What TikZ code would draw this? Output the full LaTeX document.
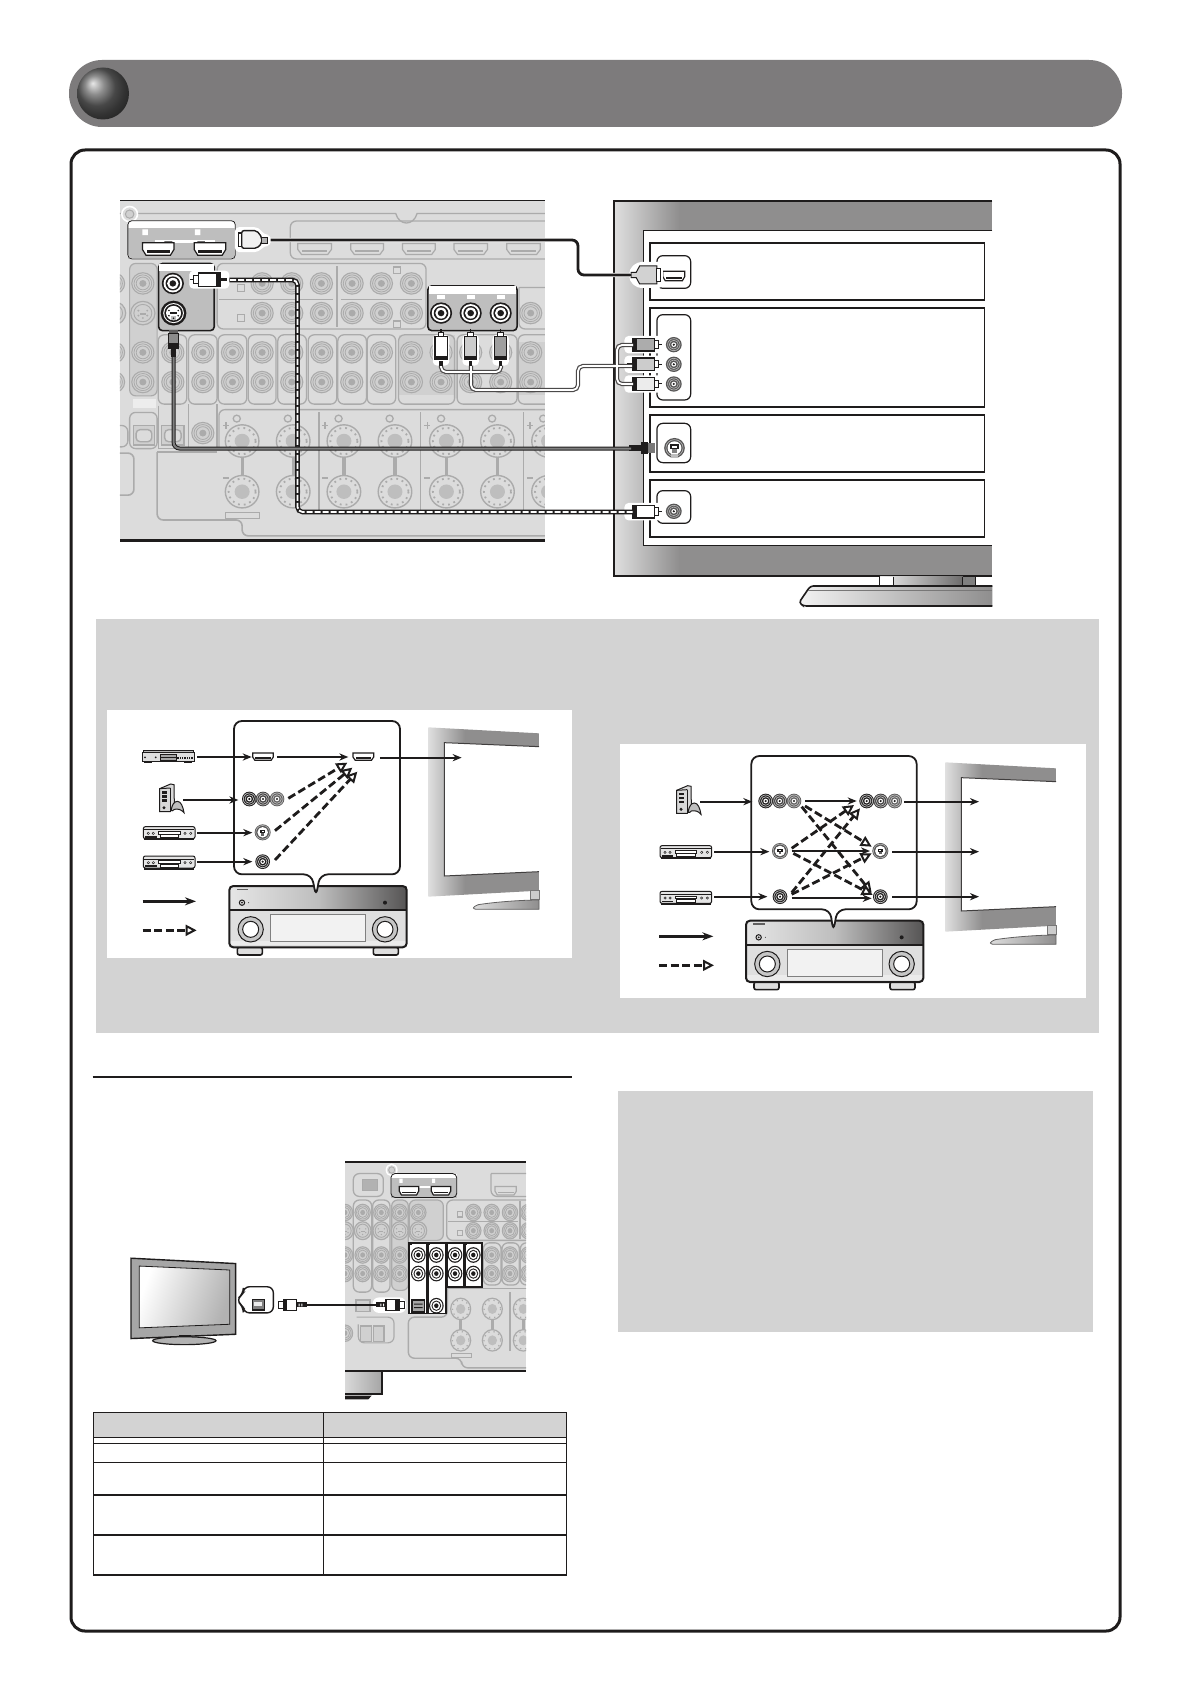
\documentclass[tikz,border=0pt]{standalone}
\usetikzlibrary{arrows.meta}
\definecolor{pill}{HTML}{7D7B7C}
\definecolor{pan}{HTML}{DCDCDC}
\definecolor{pand}{HTML}{D0D0D0}
\definecolor{ln}{HTML}{ABABAB}
\definecolor{hl}{HTML}{BEBEBE}
\definecolor{gbox}{HTML}{D3D3D3}
\definecolor{tvg}{HTML}{8F8E8E}
\definecolor{ink}{HTML}{1E1C1C}
\tikzset{
 arr/.style={ink,line width=1pt,-{Stealth[length=4.5pt,width=3.6pt]}},
 arrb/.style={ink,line width=1.5pt,-{Stealth[length=5.5pt,width=4pt]}},
 darr/.style={ink,line width=1.4pt,dash pattern=on 4pt off 1.8pt,-{Triangle[open,fill=white,length=5.5pt,width=5.5pt,line width=1pt]}},
 fl/.style={ln,line width=.65pt},
 bx/.style={ink,line width=.9pt,fill=white},
}
% named-end connector
\newcommand{\conn}[6][arr]{\coordinate (#2a) at (#3,#4);\coordinate (#2b) at (#5,#6);\draw[#1] (#2a) -- (#2b);}
% faint panel jack
\newcommand{\fjk}[3][31]{\fill[pand,draw=ln,line width=.55pt] (#2,#3) circle[radius=#1];
 \draw[ln,line width=.4pt] (#2,#3) circle[radius={#1*.8}];
 \draw[ln,line width=.4pt] (#2,#3) circle[radius={#1*.6}];
 \fill[ln] (#2,#3) circle[radius={#1*.32}];}
% faint s-video jack
\newcommand{\fsv}[3][34]{\fill[pand,draw=ln,line width=.6pt] (#2,#3) circle[radius=#1];
 \draw[ln,line width=.45pt] (#2,#3) circle[radius={#1*.74}];
 \foreach \fa in {30,90,150,210,330}{\fill[ln] (#2,#3) ++(\fa:{#1*.42}) circle[radius={#1*.09}];}
 \fill[ln] (#2-#1*.25,#3+#1*.02) rectangle (#2+#1*.25,#3+#1*.18);}
% dark highlighted jack
\newcommand{\djk}[3][31]{\fill[ink] (#2,#3) circle[radius=#1];
 \fill[white] (#2,#3) circle[radius={#1*.84}];
 \fill[ink] (#2,#3) circle[radius={#1*.66}];
 \fill[white] (#2,#3) circle[radius={#1*.52}];
 \fill[ink] (#2,#3) circle[radius={#1*.3}];}
% mesh jack of the diagrams
\newcommand{\mjcol}{ink}
\newcommand{\mjk}[3][22]{\fill[\mjcol] (#2,#3) circle[radius=#1];
 \draw[white!75!black,line width=.35pt] (#2,#3) circle[radius={#1*.82}];
 \draw[white!75!black,line width=.35pt] (#2,#3) circle[radius={#1*.58}];
 \fill[white] (#2,#3) circle[radius={#1*.32}];
 \fill[ink] (#2,#3) circle[radius={#1*.16}];}
% diagram s jack
\newcommand{\msj}[3][24]{\fill[ink!75] (#2,#3) circle[radius=#1];
 \draw[white!70!black,line width=.35pt] (#2,#3) circle[radius={#1*.86}];
 \fill[white] (#2,#3) circle[radius={#1*.66}];
 \fill[ink] (#2-#1*.34,#3-#1*.28) rectangle (#2+#1*.34,#3+#1*.12);
 \fill[white] (#2-#1*.14,#3-#1*.14) rectangle (#2+#1*.14,#3);
 \fill[ink!70] (#2-#1*.15,#3+#1*.12) rectangle (#2+#1*.15,#3+#1*.42);}
% HDMI port: x y halfw halfh linecolor fill
\newcommand{\hdp}[6]{\begin{scope}[shift={(#1,#2)},xscale=#3,yscale=#4]
 \filldraw[draw=#5,fill=#6,line width=.6pt] (-1,-1) -- (1,-1) -- (1,.1) -- (.78,1) -- (-.78,1) -- (-1,.1) -- cycle;
 \fill[#5] (-.74,.2) rectangle (.74,.62);\end{scope}}
% RCA plug, origin where the cable enters, body runs +x
\newcommand{\rcaH}[5]{\begin{scope}[shift={(#1,#2)},xscale=#3,yscale=#4]
 \fill[white,rounded corners=2pt] (-24,-26) rectangle (88,26);
 \fill[ink] (-18,-5) rectangle (0,5);
 \fill[#5] (0,-19) rectangle (63,19);
 \draw[ink,line width=.6pt] (0,-19) rectangle (63,19);
 \fill[ink] (0,-19) rectangle (12,19);
 \filldraw[fill=white,draw=ink,line width=.5pt] (63,-11) rectangle (76,11);
 \fill[ink] (76,-1.5) rectangle (86,1.5);
 \end{scope}}
% RCA plug vertical, origin cable end, tip upward
\newcommand{\rcaV}[3]{\begin{scope}[shift={(#1,#2)}]
 \fill[white,rounded corners=2pt] (-23,-75) rectangle (23,14);
 \fill[ink] (-5,0) rectangle (5,14);
 \fill[#3] (-17,-70) rectangle (17,-3);
 \draw[ink,line width=.6pt] (-17,-70) rectangle (17,-3);
 \fill[ink] (-17,-14) rectangle (17,-2);
 \filldraw[fill=white,draw=ink,line width=.5pt] (-8,-82) rectangle (8,-70);
 \fill[ink] (-2,-92) rectangle (2,-82);
 \end{scope}}
% AV receiver, origin top-left, 532 x 207
\newcommand{\receiver}[2]{\begin{scope}[shift={(#1,#2)}]
 \filldraw[fill=pand!70,draw=ink,line width=.8pt,rounded corners=1pt] (24,184) rectangle (99,207);
 \filldraw[fill=pand!70,draw=ink,line width=.8pt,rounded corners=1pt] (432,184) rectangle (507,207);
 \shade[left color=white!90!black,right color=ink!75,middle color=hl] (1,2) rectangle (531,72);
 \fill[gray!25] (1,72) rectangle (531,184);
 \fill[white!92!black] (1,164) rectangle (531,178);
 \draw[ink,line width=1pt,rounded corners=2pt] (0,0) rectangle (532,184);
 \draw[ink,line width=1.1pt] (0,72) -- (532,72);
 \filldraw[fill=gray!10,draw=gray,line width=.4pt] (124,86) rectangle (408,166);
 \foreach \kx in {64,467}{\fill[gray!45,draw=ink,line width=.5pt] (\kx,130) circle[radius=38];
  \filldraw[fill=white,draw=ink,line width=.5pt] (\kx,130) circle[radius=24];}
 \fill[ink] (467,50) circle[radius=6];
 \draw[ink,line width=.5pt] (38,50) circle[radius=8];\fill[ink] (38,50) circle[radius=3];
 \fill[ink] (58,50) circle[radius=1.5];
 \fill[ink!70] (22,8) rectangle (56,13);
 \end{scope}}
% flat TV of the diagrams, origin top-left
\newcommand{\difftv}[2]{\begin{scope}[shift={(#1,#2)}]
 \begin{scope}\clip (0,0) -- (332,18) -- (332,490) -- (0,508) -- cycle;
 \shade[left color=gray!25,right color=tvg] (0,0) rectangle (110,510);
 \fill[tvg] (110,0) rectangle (332,510);\end{scope}
 \fill[white] (48,46) -- (332,58) -- (332,433) -- (48,446) -- cycle;
 \draw[ink!85,line width=.5pt] (332,58) -- (48,46) -- (48,446) -- (332,433);
 \fill[gray!40,draw=ink!60,line width=.3pt] (307,490) rectangle (332,516);
 \shade[left color=gray!25,right color=tvg,draw=ink!70] (332,518) -- (332,546) -- (150,546) .. controls (130,546) and (130,540) .. (150,532) .. controls (200,524) and (280,518) .. (332,518);
 \end{scope}}
% recorder, origin top-left, 155 x 40
\newcommand{\recorder}[2]{\begin{scope}[shift={(#1,#2)}]
 \filldraw[fill=gray!20,draw=ink,line width=.5pt,rounded corners=1pt] (0,0) rectangle (155,36);
 \fill[ink] (3,36) rectangle (152,41);
 \filldraw[fill=white,draw=ink,line width=.4pt] (46,14) rectangle (110,22);
 \filldraw[fill=white,draw=ink,line width=.4pt] (50,24) rectangle (105,33);
 \foreach \px in {15,30,125,142}{\fill[ink] (\px,20) circle[radius=4.5];\fill[gray!30] (\px,20) circle[radius=1.8];}
 \draw[ink,line width=.4pt] (2,9) -- (153,9);
 \fill[ink] (6,28) rectangle (40,33);
 \end{scope}}
% disc player, origin top-left, 155 x 38
\newcommand{\dvd}[2]{\begin{scope}[shift={(#1,#2)}]
 \filldraw[fill=gray!55,draw=ink,line width=.4pt] (2,0) rectangle (153,8);
 \filldraw[fill=gray!25,draw=ink,line width=.5pt] (0,8) rectangle (155,34);
 \filldraw[fill=gray!70,draw=ink,line width=.4pt] (54,14) rectangle (102,30);
 \draw[ink,line width=.5pt] (54,22) -- (102,22);
 \foreach \px in {105,112,...,150}{\fill[ink] (\px,22) rectangle (\px+4,27);}
 \fill[ink] (8,22) circle[radius=3];\fill[ink] (40,22) circle[radius=3];
 \fill[ink] (4,34) rectangle (30,38);\fill[ink] (125,34) rectangle (150,38);
 \end{scope}}
% game console, origin top-left, 75 x 90
\newcommand{\console}[2]{\begin{scope}[shift={(#1,#2)}]
 \filldraw[fill=gray!30,draw=ink,line width=.5pt] (2,16) -- (35,2) -- (45,4) -- (46,60) -- (34,85) -- (2,85) -- cycle;
 \draw[ink,line width=.5pt] (34,14) -- (34,85);\draw[ink,line width=.5pt] (2,16) -- (34,14);
 \foreach \py in {24,36,48}{\fill[ink] (10,\py) rectangle (24,\py+7);}
 \fill[ink] (15,73) circle[radius=5];
 \filldraw[fill=gray!50,draw=ink,line width=.5pt] (36,82) .. controls (40,62) and (45,55) .. (55,54) .. controls (66,54) and (72,70) .. (75,88) .. controls (66,78) and (58,76) .. (46,78) .. controls (42,80) and (40,86) .. (36,82);
 \end{scope}}
\begin{document}
\begin{tikzpicture}[x=0.5pt,y=-0.5pt]
\useasboundingbox (0,0) rectangle (1190,1684);
\fill[white] (0,0) rectangle (1190,1684);
% header
\fill[pill,rounded corners=16.5pt] (69,60) rectangle (1122,127);
\shade[ball color=black!60] (103,93.5) circle[radius=26];
% frame
\draw[ink,line width=1.5pt,rounded corners=7pt] (71,150) rectangle (1120,1631);
%%%%% big rear panel
\begin{scope}[shift={(60,40)},xscale=1/2.8,yscale=1/2.9]
\begin{scope}
\clip (168,465) rectangle (1358,1453);
\fill[pan] (168,465) rectangle (1358,1453);
\draw[fl] (168,503) -- (940,503) .. controls (950,540) and (990,540) .. (1000,503) -- (1358,503);
\filldraw[fill=pan,draw=white,line width=.8pt] (195,505) circle[radius=22];
\filldraw[fill=pand,draw=ln,line width=.5pt] (195,505) circle[radius=12];
% hdmi row
\draw[fl,rounded corners=3pt] (1400,525) -- (645,525) -- (645,635) -- (1400,635);
\foreach \hx/\hw in {713/47,860/46,1005/46,1150/47,1298/47}{\hdp{\hx}{606}{\hw}{16}{ln}{pan}}
% upper block
\draw[fl,rounded corners=3pt] (440,755) -- (440,648) -- (1025,648) -- (1025,838) -- (440,838) -- cycle;
\draw[fl] (445,752) -- (765,752) (788,752) -- (1015,752) (776,655) -- (776,832);
\foreach \jx in {566,649,732,818,900,984}{\fjk{\jx}{706}\fjk{\jx}{792}}
\draw[fl] (497,710) rectangle (517,730) (497,797) rectangle (517,817) (933,658) rectangle (953,678) (933,815) rectangle (953,833);
% left column
\filldraw[fill=pand,draw=ln,line width=.6pt,rounded corners=3pt] (195,648) rectangle (272,1032);
\foreach \jy in {706,906,992}{\fjk{232}{\jy}\fjk{150}{\jy}}
\fsv{232}{792}\fsv{150}{792}
% lower rows
\foreach \bl/\br/\bx in {275/355/316,360/440/400,443/523/483,527/605/566,610/690/649,695/775/733,778/858/817,860/940/900}{
 \draw[fl,rounded corners=3pt] (\bl,855) rectangle (\br,1056);
 \fjk{\bx}{906}\fjk{\bx}{992}}
\fill[pand] (948,855) rectangle (1105,1030);
\draw[fl,rounded corners=3pt] (948,855) rectangle (1105,1056);
\draw[fl,rounded corners=3pt] (1112,855) rectangle (1280,1056);
\fill[pand] (1283,875) rectangle (1358,1030);
\draw[fl,rounded corners=3pt] (1283,855) rectangle (1400,1056);
\foreach \jx in {984,1067,1150,1234,1318}{\fjk{\jx}{906}\fjk{\jx}{992}}
\fill[pan!50!white] (205,1040) rectangle (268,1068);
% optical row
\draw[fl,rounded corners=3pt] (168,1118) -- (190,1118) -- (190,1180) -- (168,1180);
\draw[fl,rounded corners=3pt] (195,1080) rectangle (272,1185);
\draw[fl] (275,1060) -- (275,1185) -- (360,1185) (360,1056) -- (360,1185) -- (440,1185) -- (440,1056);
\foreach \ox/\ow in {205/60,285/62}{\filldraw[fill=pand,draw=ln,line width=.7pt] (\ox,1118) rectangle (\ox+\ow,1175);
 \filldraw[fill=pan,draw=ln,line width=.7pt,rounded corners=2pt] (\ox+8,1130) rectangle (\ox+\ow-8,1165);}
\fjk{400}{1140}
% speaker terminals
\draw[fl,rounded corners=3pt] (445,1185) -- (445,1072) -- (1400,1072);
\foreach \dx in {725,1010,1298}{\draw[fl] (\dx,1080) -- (\dx,1365);}
\foreach \tx in {510,653,795,938,1082,1225,1368}{
 \draw[ln,line width=1.6pt] (\tx,1200) -- (\tx,1280);
 \foreach \ty in {1163,1310}{
 \fill[pan,draw=ln,line width=.7pt] (\tx,\ty) circle[radius=47];
 \draw[ln,line width=.9pt,dotted] (\tx,\ty) circle[radius=38];
 \fill[hl] (\tx,\ty) circle[radius=21];}
 \draw[fl] (\tx-15,1098) circle[radius=10];}
\foreach \px in {465,742,1028,1316}{\draw[ln,line width=.6pt] (\px-9,1118) -- (\px+9,1118) (\px,1108) -- (\px,1128) (\px-9,1270) -- (\px+9,1270);}
% lower outline
\draw[fl,line width=.8pt,rounded corners=3pt] (272,1195) -- (272,1392) -- (510,1392) -- (510,1438) -- (1400,1438);
\draw[fl,line width=.8pt,rounded corners=3pt] (168,1198) -- (207,1198) -- (207,1320) -- (168,1320);
\draw[fl,line width=.8pt] (272,1195) -- (440,1195);
\filldraw[fill=pan,draw=ln,line width=.6pt] (463,1370) rectangle (558,1388);
% hdmi out box
\fill[hl] (190,524) rectangle (491,635);
\fill[white] (190,524) rectangle (491,546);
\draw[white,line width=.6pt,rounded corners=2pt] (190,524) rectangle (491,635);
\draw[ink,line width=.4pt,rounded corners=2pt] (190,524) rectangle (491,635);
\fill[white] (231,549) rectangle (246,566) (378,549) rectangle (393,566);
\fill[white] (265,581) rectangle (434,589);
\fill[ink] (292,584) rectangle (315,587) (385,584) rectangle (406,587);
\hdp{275}{606}{44}{18}{ink}{white}\hdp{420}{606}{44}{18}{ink}{white}
% composite / s-video out box
\filldraw[fill=hl,draw=ink,line width=.8pt,rounded corners=2pt] (276,648) rectangle (432,843);
\fill[white] (278,649) rectangle (430,670);
\djk{316}{706}
\fill[ink] (318,792) circle[radius=36];\fill[white] (318,792) circle[radius=29];
\fill[ink] (318,792) circle[radius=26];\fill[white] (318,792) circle[radius=21];
\fill[ink] (307,790) rectangle (329,796);
\fill[hl] (312,800) rectangle (324,812);
\foreach \sa in {30,90,150,210,330}{\fill[ink] (318,792) ++(\sa:15) circle[radius=2.6];}
% component out box
\filldraw[fill=hl,draw=ink,line width=.8pt,rounded corners=2pt] (1030,713) rectangle (1280,843);
\fill[white] (1032,714) rectangle (1278,736);
\foreach \jx in {1067,1150,1234}{\djk{\jx}{792}\fill[white] (\jx-11,739) rectangle (\jx+11,751);}
\draw[fl,rounded corners=3pt] (1285,718) -- (1400,718) (1285,718) -- (1285,838) -- (1400,838);
\fjk{1318}{792}
\end{scope}
\fill[ink] (168,463) rectangle (1358,468);
\fill[ink] (168,1448) rectangle (1358,1456);
\end{scope}
%%%%% big TV
\begin{scope}[shift={(600,180)},xscale=1/2.9,yscale=1/3]
\shade[left color=gray!25,right color=tvg] (40,62) rectangle (230,1188);
\fill[tvg] (230,62) rectangle (1138,1188);
\draw[ink,line width=1.1pt] (1138,62) -- (40,62) -- (40,1188) -- (1138,1188);
\fill[white] (126,152) rectangle (1138,1098);
\draw[ink,line width=.5pt] (1138,152) -- (126,152) -- (126,1098) -- (1138,1098);
\foreach \ba/\bb in {188/360,384/682,704/876,900/1072}{\draw[bx] (145,\ba) rectangle (1115,\bb);}
\foreach \ca/\cb in {227/325,404/660,730/848,932/1030}{\draw[ink,line width=.6pt,rounded corners=3pt,fill=white] (165,\ca) rectangle (263,\cb);}
\hdp{214}{288}{32}{14}{ink}{white}
\foreach \jy in {494,553,612,994}{\fill[ink!75] (214,\jy) circle[radius=23];\draw[white!70!black,line width=.35pt] (214,\jy) circle[radius=18];\draw[white!70!black,line width=.35pt] (214,\jy) circle[radius=13];\fill[white] (214,\jy) circle[radius=7];\fill[ink] (214,\jy) circle[radius=3.5];
 \fill[ink] (172,\jy-1) rectangle (182,\jy+1);}
\fill[ink!75] (216,804) circle[radius=30];\draw[white!70!black,line width=.35pt] (216,804) circle[radius=25];\fill[white] (216,804) circle[radius=20];
\fill[ink] (203,793) rectangle (229,808);\fill[white] (209,797) rectangle (223,804);
\fill[gray] (209,808) rectangle (223,820);
\fill[hl] (207,822) rectangle (225,834);
% stand
\shade[left color=gray!15,right color=ink!65] (812,1190) rectangle (1052,1218);
\fill[gray] (1052,1190) rectangle (1090,1218);
\draw[ink,line width=.6pt] (812,1190) -- (812,1218) (852,1190) -- (852,1218) (1052,1190) -- (1052,1218) (1090,1190) -- (1090,1218);
\fill[white] (813,1191) rectangle (851,1217);
\shade[left color=gray!10,right color=tvg] (610,1218) -- (1138,1218) -- (1138,1278) -- (590,1278) -- (577,1268) -- cycle;
\draw[ink,line width=.8pt,rounded corners=1.5pt] (1138,1218) -- (610,1218) -- (577,1268) -- (590,1278) -- (1138,1278);
\draw[ink!60,line width=.4pt] (604,1232) -- (1138,1232);
% plugs on TV
\fill[white,rounded corners=2pt] (85,268) -- (108,246) -- (182,246) -- (182,324) -- (108,324) -- (85,302) -- cycle;
\filldraw[fill=gray!35,draw=ink,line width=.5pt] (90,277) -- (105,277) -- (115,258) -- (165,258) -- (165,312) -- (115,312) -- (105,293) -- (90,293) -- cycle;
\filldraw[fill=white,draw=ink,line width=.5pt] (165,265) rectangle (175,305);
\rcaH{95}{494}{1}{1}{gray!65}
\rcaH{95}{553}{1}{1}{gray!40}
\rcaH{95}{612}{1}{1}{gray!15}
\rcaH{95}{995}{1}{1}{white}
\fill[ink] (85,795) rectangle (118,812);
\fill[gray!90] (118,788) rectangle (160,820);\fill[ink] (118,786) rectangle (140,822);\fill[ink!60] (140,790) rectangle (160,818);
\end{scope}
%%%%% cables
\coordinate (hdmiA) at (267,240);\coordinate (hdmiM1) at (578,240);\coordinate (hdmiM2) at (578,275);\coordinate (hdmiB) at (631,275);
\draw[white,line width=2.2pt,rounded corners=3pt] (hdmiA) -- (hdmiM1) -- (hdmiM2) -- (hdmiB);
\draw[ink,line width=1.4pt,rounded corners=3pt] (hdmiA) -- (hdmiM1) -- (hdmiM2) -- (hdmiB);
\coordinate (cvA) at (222,280);\coordinate (cvM1) at (297.5,280);\coordinate (cvM2) at (297.5,512);\coordinate (cvB) at (633,512);
\draw[ink,line width=2.3pt,rounded corners=2.5pt] (cvA) -- (cvM1) -- (cvM2) -- (cvB);
\draw[white,line width=.9pt,dash pattern=on 3pt off 1pt,rounded corners=2.5pt] (cvA) -- (cvM1) -- (cvM2) -- (cvB);
\coordinate (svA) at (173.6,357);\coordinate (svM) at (173.6,448.5);\coordinate (svB) at (631,448.5);
\draw[ink,line width=2pt,rounded corners=3pt] (svA) -- (svM) -- (svB);
\draw[gray,line width=1pt,rounded corners=3pt] (svA) -- (svM) -- (svB);
% component cable
\coordinate (cD) at (471,390);\coordinate (cR) at (578,390);\coordinate (cU) at (578,366);\coordinate (cT) at (632,366);
\coordinate (cB1) at (633,345);\coordinate (cB2) at (633,384);
\foreach \cw/\cc in {2.1pt/ink!80,.9pt/white}{
 \draw[\cc,line width=\cw,rounded corners=2.5pt] (441,345) -- (441,372) -- (501,372) -- (501,345);
 \draw[\cc,line width=\cw,rounded corners=2.5pt] (471,345) -- (cD) -- (cR) -- (cU) -- (cT);
 \draw[\cc,line width=\cw,rounded corners=2.5pt] (cB1) -- (617,345) -- (617,384) -- (cB2);}
%%%%% plugs on big panel
\begin{scope}[shift={(60,40)},xscale=1/2.8,yscale=1/2.9]
\rcaH{450}{695}{-1}{1}{white}
\rcaV{1067}{930}{white}
\rcaV{1150}{930}{gray!40}
\rcaV{1234}{930}{gray!75}
\fill[white,rounded corners=2pt] (490,543) -- (556,543) -- (572,565) -- (590,565) -- (590,597) -- (572,597) -- (556,615) -- (490,615) -- cycle;
\filldraw[fill=white,draw=ink,line width=.6pt] (499,560) rectangle (509,598);
\filldraw[fill=gray!12,draw=ink,line width=.7pt,rounded corners=1pt] (509,553) -- (551,553) -- (565,572) -- (565,590) -- (551,604) -- (509,604) -- cycle;
\filldraw[fill=gray!60,draw=ink,line width=.4pt] (565,572) rectangle (582,590);
\fill[ink!70] (305,842) rectangle (330,852);
\fill[gray!90,draw=ink,line width=.5pt] (303,852) rectangle (332,895);
\fill[ink] (303,880) rectangle (332,895);
\fill[ink] (312,895) rectangle (324,920);
\end{scope}
%%%%% gray note panel
\fill[gbox] (96,619) rectangle (1099,1033);
\fill[white] (107,710) rectangle (572,958);
\fill[white] (620,744) rectangle (1086,998);
%%%%% diagram C
\begin{scope}[shift={(90,620)},xscale=1/3,yscale=1/3]
\difftv{1015}{322}
\receiver{418}{798}
\filldraw[fill=white,draw=ink,line width=.9pt,rounded corners=4pt] (665,763) -- (432,763) -- (432,303) -- (930,303) -- (930,763) -- (690,763) -- (678,830) -- cycle;
\dvd{157}{390}\console{207}{490}\recorder{160}{620}\recorder{160}{708}
\hdp{519}{410}{31}{11}{ink}{white}\hdp{820}{410}{31}{11}{ink}{white}
\foreach \jx/\jc in {478/ink,519/ink!85,561/ink!70}{\renewcommand{\mjcol}{\jc}\mjk{\jx}{537}}
\msj{518}{637}\mjk{518}{725}
\conn{ca}{322}{411}{485}{411}\conn{cb}{562}{411}{775}{411}\conn{cc}{870}{413}{1115}{413}
\conn{cd}{280}{540}{445}{540}\conn{ce}{322}{638}{487}{638}\conn{cf}{322}{725}{487}{725}
\conn[darr]{cg}{595}{535}{772}{428}\conn[darr]{ch}{555}{632}{787}{443}\conn[darr]{ci}{555}{720}{802}{455}
\conn[arrb]{cj}{158}{844}{318}{844}\conn[darr]{ck}{158}{931}{320}{931}
\end{scope}
%%%%% diagram D
\begin{scope}[shift={(610,730)},xscale=1/3,yscale=1/3]
\difftv{1006}{97}
\receiver{408}{572}
\filldraw[fill=white,draw=ink,line width=.9pt,rounded corners=4pt] (660,538) -- (424,538) -- (424,78) -- (920,78) -- (920,538) -- (682,538) -- (670,605) -- cycle;
\console{198}{165}\recorder{150}{347}\recorder{150}{484}
\foreach \jx/\jc in {467/ink,509/ink!85,552/ink!70,770/ink,812/ink!85,854/ink!70}{\renewcommand{\mjcol}{\jc}\mjk{\jx}{213}}
\msj{510}{363}\msj{811}{363}\mjk{510}{500}\mjk{811}{500}
\conn{da}{270}{215}{427}{215}\conn{db}{312}{365}{478}{365}\conn{dc}{312}{500}{472}{500}
\conn{dd}{585}{213}{740}{213}\conn{de}{545}{363}{780}{363}\conn{df}{545}{505}{785}{505}
\conn{dg}{882}{215}{1107}{215}\conn{dh}{846}{365}{1107}{365}\conn{di}{846}{500}{1107}{500}
\conn[darr]{dj}{585}{228}{785}{350}\conn[darr]{dk}{575}{230}{785}{488}
\conn[darr]{dl}{545}{355}{732}{225}\conn[darr]{dm}{550}{370}{788}{495}
\conn[darr]{dn}{545}{488}{750}{235}\conn[darr]{do}{545}{493}{785}{370}
\conn[arrb]{dp}{147}{619}{310}{619}\conn[darr]{dq}{147}{706}{312}{706}
\end{scope}
%%%%% lower left
\begin{scope}[shift={(90,1060)},xscale=1/3,yscale=1/2.8]
\draw[ink,line width=.9pt] (8,47) -- (1446,47);
% small TV
\filldraw[fill=gray!70,draw=ink,line width=.7pt] (123,555) -- (437,570) -- (437,768) -- (123,780) -- cycle;
\shade[left color=white,right color=gray!60,shading angle=70,draw=ink] (148,577) -- (419,588) -- (419,740) -- (148,750) -- cycle;
\filldraw[fill=gray!50,draw=ink,line width=.5pt] (268,771) rectangle (300,783);
\filldraw[fill=gray!60,draw=ink,line width=.6pt] (283,786) ellipse[x radius=95,y radius=11];
% callout
\filldraw[fill=white,draw=ink,line width=.7pt,rounded corners=3pt] (460,655) -- (460,635) -- (550,635) -- (550,708) -- (460,708) -- (460,690) -- (438,672) -- cycle;
\filldraw[fill=gray,draw=ink,line width=.6pt] (487,670) rectangle (523,700);
\fill[gray!15] (493,678) rectangle (517,688);
% rear panel
\begin{scope}
\clip (765,283) rectangle (1308,950);
\fill[pan] (765,283) rectangle (1308,870);
\fill[ink] (765,281) rectangle (1308,287);
\filldraw[fill=pan,draw=white,line width=.7pt] (905,308) circle[radius=16];
\filldraw[fill=pand,draw=ln,line width=.4pt] (905,308) circle[radius=9];
\draw[fl,rounded corners=3pt] (790,318) rectangle (880,382);
\filldraw[fill=gray!60,draw=ln] (816,333) rectangle (862,364);
\draw[fl,rounded corners=3pt] (1203,318) -- (1340,318) (1203,318) -- (1203,382) -- (1340,382);
\hdp{1247}{366}{32}{12}{ln}{pan}
\draw[fl,rounded corners=3pt] (1070,392) rectangle (1340,505);
\draw[fl] (1075,453) -- (1285,453);\draw[fl] (1290,395) -- (1290,500);
\foreach \jx in {1150,1205,1260,1315}{\fjk[23]{\jx}{427}\fjk[23]{\jx}{478}}
\draw[fl] (1103,424) rectangle (1117,440) (1103,478) rectangle (1117,492);
\filldraw[fill=pand,draw=ln,line width=.6pt,rounded corners=3pt] (905,392) rectangle (955,645);
\filldraw[fill=pand,draw=ln,line width=.6pt,rounded corners=3pt] (958,392) rectangle (1060,505);
\foreach \bl/\br in {790/845,848/900}{\draw[fl,rounded corners=3pt] (\bl,392) rectangle (\br,650);}
\foreach \jx in {765,818,874,929}{\fjk[23]{\jx}{427}\fsv[25]{\jx}{478}\fjk[23]{\jx}{546}\fjk[23]{\jx}{598}}
\fjk[23]{985}{427}\fsv[25]{985}{478}
\foreach \jx in {1205,1260,1315}{\fjk[23]{\jx}{546}\fjk[23]{\jx}{598}}
\draw[fl,rounded corners=3pt] (1180,512) rectangle (1233,630) (1236,512) rectangle (1288,630) (1291,512) rectangle (1340,630);
\fjk[23]{765}{765}
\filldraw[fill=pan,draw=ln,line width=.6pt,rounded corners=3pt] (800,720) -- (912,720) -- (912,792) -- (805,792) -- (805,740);
\foreach \ox in {812,850}{\draw[fl,fill=pand] (\ox,745) rectangle (\ox+32,788);}
\filldraw[fill=pand,draw=ln,line width=.6pt] (798,672) rectangle (840,705);
\draw[fl,rounded corners=3pt] (1070,640) -- (1340,640);
\draw[fl,line width=.7pt,rounded corners=3pt] (1072,640) -- (1072,720) -- (955,720) -- (955,835) -- (1115,835) -- (1115,862) -- (1340,862);
\draw[fl] (1260,650) -- (1260,815);
\foreach \tx in {1112,1207,1300}{
 \draw[ln,line width=1.2pt] (\tx,720) -- (\tx,770);
 \foreach \ty in {697,785}{\fill[pan,draw=ln,line width=.6pt] (\tx,\ty) circle[radius=30];
 \draw[ln,line width=.6pt,dotted] (\tx,\ty) circle[radius=25];
 \fill[hl] (\tx,\ty) circle[radius=14];}}
\filldraw[fill=pan,draw=ln,line width=.5pt] (1083,822) rectangle (1145,832);
% hdmi box
\fill[hl] (903,318) rectangle (1100,385);
\fill[white] (903,318) rectangle (1100,330);
\draw[ink,line width=.4pt,rounded corners=2pt] (903,318) rectangle (1100,385);
\fill[white] (928,332) rectangle (938,344) (1026,332) rectangle (1035,344);
\fill[white] (940,354) rectangle (1072,358);
\hdp{957}{366}{29}{12}{ink}{white}\hdp{1053}{366}{29}{12}{ink}{white}
% highlighted inputs
\filldraw[bx] (958,513) rectangle (1012,710);\filldraw[bx] (1013,513) rectangle (1067,710);
\filldraw[bx] (1070,513) rectangle (1122,635);\filldraw[bx] (1125,513) rectangle (1176,635);
\foreach \jx in {985,1039,1095,1150}{\djk[22]{\jx}{546}\djk[22]{\jx}{598}\fill[ink] (\jx-28,510) rectangle (\jx-20,517);}
\djk[22]{1039}{688}
\filldraw[fill=gray!70,draw=ink,line width=.8pt] (966,672) rectangle (1004,705);
\fill[ink] (972,682) rectangle (998,685) (972,692) rectangle (998,695);
% foot
\shade[left color=gray!30,right color=gray!70] (765,873) rectangle (875,935);
\draw[ink,line width=.9pt] (875,870) -- (875,935) -- (765,935);
\fill[ink] (765,940) -- (845,940) -- (835,950) -- (765,950) -- cycle;
\fill[ink] (765,867) rectangle (1308,874);
\end{scope}
% optical cable
\coordinate (opA) at (650,686);\coordinate (opB) at (860,686);
\fill[white,rounded corners=2pt] (560,668) rectangle (652,704);
\fill[white,rounded corners=3pt] (848,665) rectangle (948,708);
\draw[ink,line width=1.35pt] (opA) -- (opB);
\foreach \osx/\osd in {620/1,888/-1}{\begin{scope}[shift={(\osx,686)},xscale=\osd]
 \filldraw[fill=white,draw=ink,line width=.6pt] (0,-15) rectangle (-40,15);
 \fill[ink] (-28,-15) rectangle (-40,15);
 \filldraw[fill=white,draw=ink,line width=.5pt] (-40,-10) rectangle (-55,10);
 \fill[ink] (0,-7) rectangle (30,7);
 \fill[white] (6,-4) rectangle (9,4) (14,-4) rectangle (17,4);
 \end{scope}}
% table
\fill[gbox] (10,987) rectangle (1430,1058);
\draw[ink,line width=.6pt] (10,1058) -- (1430,1058) (10,1073) -- (1430,1073) (10,1128) -- (1430,1128) (10,1218) -- (1430,1218) (10,1330) -- (1430,1330);
\draw[ink,line width=.7pt] (10,987) -- (1430,987) -- (1430,1442) (10,987) -- (10,1442);
\draw[ink,line width=.6pt] (700,987) -- (700,1442);
\draw[ink,line width=1.1pt] (10,1442) -- (1430,1442);
\end{scope}
%%%%% lower right grey box
\fill[gbox] (618,1091) rectangle (1093,1332);
\end{tikzpicture}
\end{document}
